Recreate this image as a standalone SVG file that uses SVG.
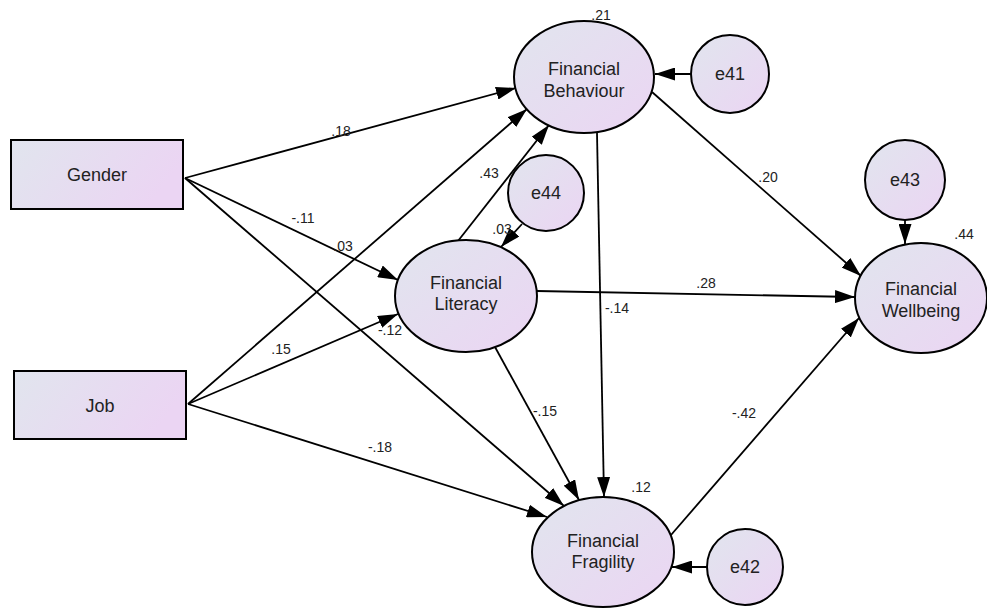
<svg xmlns="http://www.w3.org/2000/svg" width="987" height="609" viewBox="0 0 987 609">
<defs>
<linearGradient id="g" x1="0" y1="0" x2="1" y2="1">
<stop offset="0" stop-color="#e1e5ee"/>
<stop offset="1" stop-color="#ebd5f3"/>
</linearGradient>
<linearGradient id="gr" x1="0" y1="0" x2="1" y2="0.3">
<stop offset="0" stop-color="#e1e5ee"/>
<stop offset="1" stop-color="#ebd5f3"/>
</linearGradient>
<marker id="a" viewBox="0 0 20 13" refX="20" refY="6.5" markerWidth="20" markerHeight="13" markerUnits="userSpaceOnUse" orient="auto">
<path d="M0,0 L20,6.5 L0,13 Z" fill="#000"/>
</marker>
<style>
.n{fill:url(#g);stroke:#000;stroke-width:2}
.r{fill:url(#gr);stroke:#000;stroke-width:2}
.t{font-family:"Liberation Sans",Arial,sans-serif;font-size:18px;fill:#222;text-anchor:middle}
.l{font-family:"Liberation Sans",Arial,sans-serif;font-size:14px;fill:#222;text-anchor:middle}
.c{stroke:#000;stroke-width:1.8;fill:none;marker-end:url(#a)}
</style>
</defs>
<rect width="987" height="609" fill="#fff"/>
<g id="connectors">
<line class="c" x1="185" y1="178" x2="516" y2="88"/>
<line class="c" x1="185" y1="178" x2="398" y2="280"/>
<line class="c" x1="185" y1="178" x2="564" y2="506"/>
<line class="c" x1="188" y1="404" x2="527" y2="109"/>
<line class="c" x1="188" y1="404" x2="398" y2="314"/>
<line class="c" x1="188" y1="404" x2="547" y2="517"/>
<line class="c" x1="458" y1="241" x2="549" y2="125"/>
<line class="c" x1="522" y1="224" x2="501" y2="247"/>
<line class="c" x1="652" y1="92" x2="861" y2="276"/>
<line class="c" x1="597" y1="133" x2="604" y2="497"/>
<line class="c" x1="537" y1="291" x2="855" y2="297"/>
<line class="c" x1="495" y1="347" x2="579" y2="500"/>
<line class="c" x1="671" y1="535" x2="859" y2="318"/>
<line class="c" x1="707" y1="567" x2="672" y2="567"/>
<line class="c" x1="691" y1="74" x2="655" y2="74"/>
<line class="c" x1="905" y1="220" x2="905" y2="244"/>
</g>
<g id="gender"><rect class="r" x="11" y="140" width="172" height="69"/><text class="t" x="97" y="181">Gender</text></g>
<g id="job"><rect class="r" x="14" y="371" width="172" height="68"/><text class="t" x="100" y="412">Job</text></g>
<g id="fb"><ellipse class="n" cx="584" cy="77" rx="70" ry="56"/><text class="t" x="584" y="75">Financial</text><text class="t" x="584" y="97">Behaviour</text><text class="l" x="601" y="20">.21</text></g>
<g id="e41"><circle class="n" cx="730" cy="74" r="39"/><text class="t" x="730" y="80">e41</text></g>
<g id="e44"><circle class="n" cx="546" cy="193" r="38"/><text class="t" x="546" y="199">e44</text></g>
<g id="fl"><ellipse class="n" cx="466" cy="296" rx="71" ry="56"/><text class="t" x="466" y="289">Financial</text><text class="t" x="466" y="310">Literacy</text><text class="l" x="502" y="234">.03</text></g>
<g id="e43"><circle class="n" cx="905" cy="180" r="40"/><text class="t" x="905" y="186">e43</text></g>
<g id="fw"><ellipse class="n" cx="921" cy="298" rx="66" ry="55"/><text class="t" x="921" y="295">Financial</text><text class="t" x="921" y="317">Wellbeing</text><text class="l" x="964" y="239">.44</text></g>
<g id="ff"><ellipse class="n" cx="603" cy="552" rx="71" ry="55"/><text class="t" x="603" y="547">Financial</text><text class="t" x="603" y="568">Fragility</text><text class="l" x="641" y="492">.12</text></g>
<g id="e42"><circle class="n" cx="745" cy="567" r="38"/><text class="t" x="745" y="573">e42</text></g>
<g id="labels">
<text class="l" x="341" y="136">.18</text>
<text class="l" x="303" y="223">-.11</text>
<text class="l" x="343" y="251">.03</text>
<text class="l" x="489" y="178">.43</text>
<text class="l" x="706" y="288">.28</text>
<text class="l" x="617" y="313">-.14</text>
<text class="l" x="281" y="354">.15</text>
<text class="l" x="390" y="335">-.12</text>
<text class="l" x="545" y="416">-.15</text>
<text class="l" x="744" y="418">-.42</text>
<text class="l" x="380" y="452">-.18</text>
<text class="l" x="768" y="182">.20</text>
</g>
</svg>
